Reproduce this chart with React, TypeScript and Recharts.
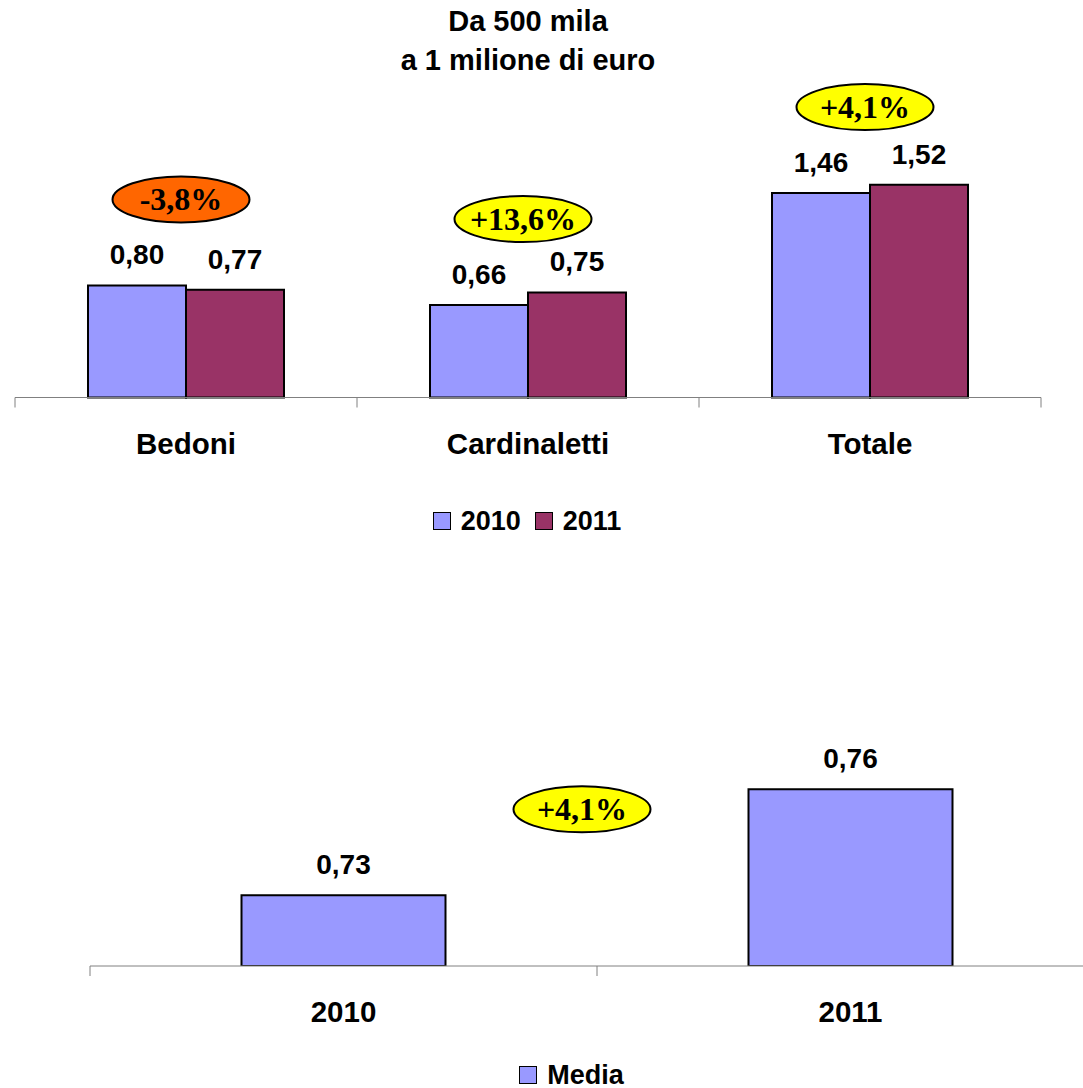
import React from 'react';
import { BarChart, Bar, XAxis, YAxis, LabelList, Legend } from 'recharts';

// ---------- data ----------
const categories = ['Bedoni', 'Cardinaletti', 'Totale'];
const values2010 = [0.8, 0.66, 1.46];
const values2011 = [0.77, 0.75, 1.52];
const changeLabels = ['-3,8%', '+13,6%', '+4,1%'];
const changeColors = ['#FF6600', '#FFFF00', '#FFFF00'];

const years = ['2010', '2011'];
const mediaValues = [0.73, 0.76];
const mediaChange = '+4,1%';
const mediaChangeColor = '#FFFF00';

const titleLines = ['Da 500 mila', 'a 1 milione di euro'];

const topData = categories.map((c, i) => ({
  name: c,
  y2010: values2010[i],
  y2011: values2011[i],
}));
const bottomData = years.map((y, i) => ({ name: y, media: mediaValues[i] }));

// ---------- styles ----------
const SANS = '"Liberation Sans", Arial, sans-serif';
const SERIF = '"Liberation Serif", "Times New Roman", serif';
const C2010 = '#9999FF';
const C2011 = '#993366';
const AXIS = '#808080';

const fmt = (v: any) => Number(v).toFixed(2).replace('.', ',');

const ValueLabel = (props: any) => {
  const { x, y, width, value } = props;
  const cx = Number(x) + Number(width) / 2;
  return (
    <text
      x={cx}
      y={Number(y) - 31}
      dy="0.355em"
      textAnchor="middle"
      fill="#000"
      style={{ fontFamily: SANS, fontWeight: 'bold', fontSize: 28 }}
    >
      {fmt(value)}
    </text>
  );
};

const Bubble = ({ cx, cy, text, color }: any) => (
  <g>
    <ellipse cx={cx} cy={cy} rx={68.5} ry={23} fill={color} stroke="#000" strokeWidth={2} />
    <text
      x={cx}
      y={cy}
      dy="0.34em"
      textAnchor="middle"
      fill="#000"
      style={{ fontFamily: SERIF, fontWeight: 'bold', fontSize: 32 }}
    >
      {text}
    </text>
  </g>
);

const TopChangeLabel = (props: any) => {
  const { x, y, width, index } = props;
  const cx = Number(x) + Number(width) - 5;
  const cy = Number(y) - 86;
  return <Bubble cx={cx} cy={cy} text={changeLabels[index]} color={changeColors[index]} />;
};

const BottomChangeLabel = (props: any) => {
  const { x, y, width, index } = props;
  if (index !== 0) return null;
  const cx = Number(x) + Number(width) / 2 + 238.5;
  const cy = Number(y) - 86;
  return <Bubble cx={cx} cy={cy} text={mediaChange} color={mediaChangeColor} />;
};

const makeTick = (count: number, fallbackHalf: number) => (props: any) => {
  const { x, y, payload, index } = props;
  const half = payload && payload.offset ? payload.offset : fallbackHalf;
  const top = y - 10;
  return (
    <g>
      <line x1={x - half} x2={x - half} y1={top} y2={y} stroke={AXIS} strokeWidth={1} />
      {index === count - 1 && (
        <line x1={x + half} x2={x + half} y1={top} y2={y} stroke={AXIS} strokeWidth={1} />
      )}
      <text
        x={x}
        y={y + 36}
        dy="0.355em"
        textAnchor="middle"
        fill="#000"
        style={{ fontFamily: SANS, fontWeight: 'bold', fontSize: 29.5 }}
      >
        {payload.value}
      </text>
    </g>
  );
};

const LegendContent = (props: any) => {
  const { payload } = props;
  return (
    <div
      style={{
        display: 'flex',
        justifyContent: 'center',
        alignItems: 'center',
        height: 30,
        fontFamily: SANS,
        fontWeight: 'bold',
        fontSize: 27,
        color: '#000',
      }}
    >
      {(payload || []).map((p: any, i: number) => (
        <div key={i} style={{ display: 'flex', alignItems: 'center', marginLeft: i === 0 ? 0 : 14 }}>
          <div
            style={{
              width: 18,
              height: 18,
              boxSizing: 'border-box',
              background: p.color,
              border: '1.5px solid #000',
              marginRight: 10,
            }}
          />
          <span style={{ lineHeight: '30px' }}>{p.value}</span>
        </div>
      ))}
    </div>
  );
};

export default function App() {
  return (
    <div
      style={{
        position: 'absolute',
        left: 0,
        top: 0,
        width: 1083,
        height: 1088,
        overflow: 'hidden',
        background: '#fff',
      }}
    >
      <div
        style={{
          position: 'absolute',
          top: 2,
          left: 0,
          width: 1056,
          textAlign: 'center',
          fontFamily: SANS,
          fontWeight: 'bold',
          fontSize: 29,
          lineHeight: '39px',
          color: '#000',
          zIndex: 2,
        }}
      >
        {titleLines.map((t, i) => (
          <div key={i}>{t}</div>
        ))}
      </div>

      <div style={{ position: 'absolute', left: 0, top: 0 }}>
        <BarChart
          width={1083}
          height={560}
          data={topData}
          margin={{ top: 145.5, right: 42, bottom: 132.5, left: 15 }}
          barCategoryGap={73}
          barGap={0}
        >
          <XAxis
            dataKey="name"
            height={30}
            axisLine={{ stroke: AXIS, strokeWidth: 1 }}
            tickLine={false}
            tickSize={10}
            tickMargin={0}
            interval={0}
            tick={makeTick(categories.length, 171)}
          />
          <YAxis hide domain={[0, 1.8]} />
          <Legend
            layout="horizontal"
            verticalAlign="middle"
            align="center"
            content={LegendContent}
            wrapperStyle={{ top: 506, left: 0, width: 1054, height: 30 }}
          />
          <Bar dataKey="y2010" name="2010" fill={C2010} stroke="#000" strokeWidth={2} isAnimationActive={false}>
            <LabelList dataKey="y2010" content={ValueLabel} />
            <LabelList dataKey="y2010" content={TopChangeLabel} />
          </Bar>
          <Bar dataKey="y2011" name="2011" fill={C2011} stroke="#000" strokeWidth={2} isAnimationActive={false}>
            <LabelList dataKey="y2011" content={ValueLabel} />
          </Bar>
        </BarChart>
      </div>

      <div style={{ position: 'absolute', left: 0, top: 600 }}>
        <BarChart
          width={1120}
          height={488}
          data={bottomData}
          margin={{ top: 118.7, right: 16, bottom: 92, left: 90 }}
          barCategoryGap={151.5}
          barGap={0}
        >
          <XAxis
            dataKey="name"
            height={30}
            axisLine={{ stroke: AXIS, strokeWidth: 1 }}
            tickLine={false}
            tickSize={10}
            tickMargin={0}
            interval={0}
            tick={makeTick(years.length, 253.5)}
          />
          <YAxis hide domain={[0.71, 0.78]} allowDataOverflow />
          <Legend
            layout="horizontal"
            verticalAlign="middle"
            align="center"
            content={LegendContent}
            wrapperStyle={{ top: 459.5, left: 0, width: 1143, height: 30 }}
          />
          <Bar dataKey="media" name="Media" fill={C2010} stroke="#000" strokeWidth={2} isAnimationActive={false}>
            <LabelList dataKey="media" content={ValueLabel} />
            <LabelList dataKey="media" content={BottomChangeLabel} />
          </Bar>
        </BarChart>
      </div>
    </div>
  );
}
